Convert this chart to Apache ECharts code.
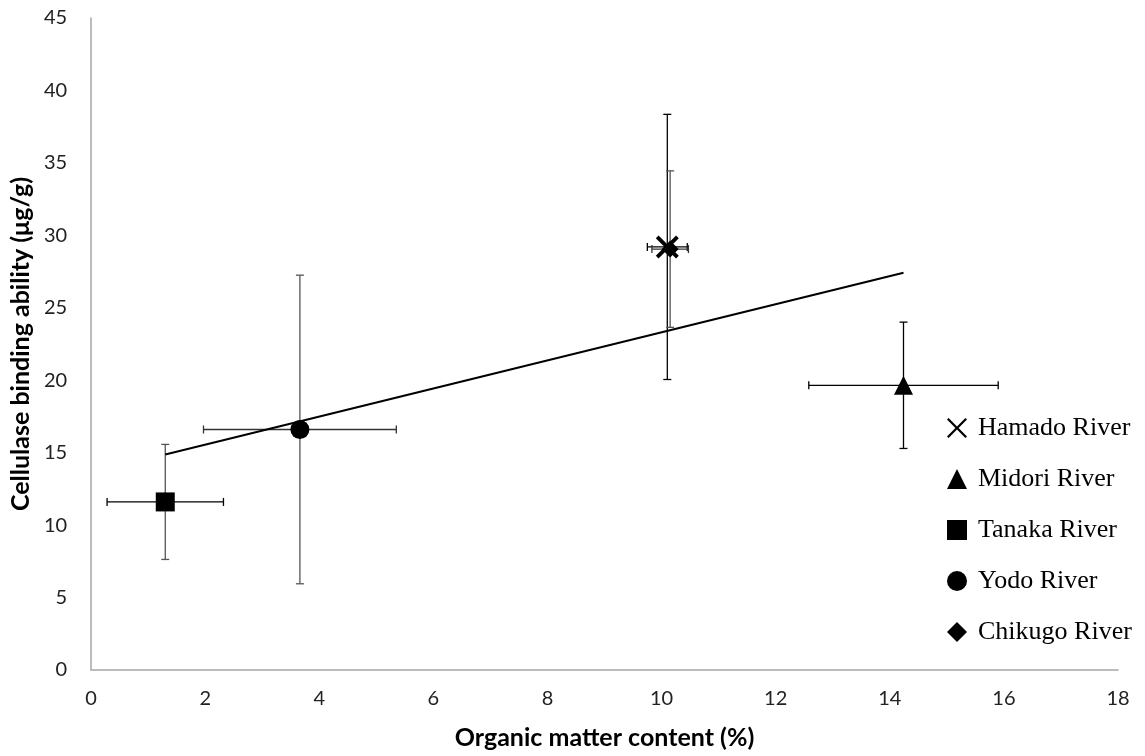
<!DOCTYPE html>
<html>
<head>
<meta charset="utf-8">
<script src="https://cdn.jsdelivr.net/npm/echarts@6/dist/echarts.min.js"></script>
<style>html,body{margin:0;padding:0;background:#fff;}#c{width:1145px;height:756px;}</style>
</head>
<body>
<div id="c"></div>
<script>
// Data: [organic matter %, binding ability, x error, y error]
var rivers = ['Hamado River', 'Midori River', 'Tanaka River', 'Yodo River', 'Chikugo River'];
var hamado  = [10.10, 29.2, 0.35, 9.15];
var midori  = [14.24, 19.65, 1.66, 4.36];
var tanaka  = [1.30, 11.6, 1.02, 3.97];
var yodo    = [3.66, 16.6, 1.69, 10.65];
var chikugo = [10.15, 29.05, 0.32, 5.4];
var trendX = [1.30, 14.24];
var trendY = [14.87, 27.42];
var xTicks = [0, 2, 4, 6, 8, 10, 12, 14, 16, 18];
var yTicks = [0, 5, 10, 15, 20, 25, 30, 35, 40, 45];

var xPath = 'path://M0,1.2L1.2,0L5,3.8L8.8,0L10,1.2L6.2,5L10,8.8L8.8,10L5,6.2L1.2,10L0,8.8L3.8,5Z';
var xPathThin = 'path://M0,0.8L0.8,0L5,4.2L9.2,0L10,0.8L5.8,5L10,9.2L9.2,10L5,5.8L0.8,10L0,9.2L4.2,5Z';

function errBar(name, d, vColor, hColor, z) {
  return {
    name: name + ' err', type: 'custom', z: z,
    data: [d],
    renderItem: function (params, api) {
      var x = api.value(0), y = api.value(1), ex = api.value(2), ey = api.value(3);
      var c = api.coord([x, y]);
      var l = api.coord([x - ex, y]), r = api.coord([x + ex, y]);
      var t = api.coord([x, y + ey]), b = api.coord([x, y - ey]);
      var cap = 4;
      var hs = {stroke: hColor, lineWidth: 1.3};
      var vs = {stroke: vColor, lineWidth: 1.3};
      return {type: 'group', children: [
        {type: 'line', shape: {x1: l[0], y1: c[1], x2: r[0], y2: c[1]}, style: hs},
        {type: 'line', shape: {x1: l[0], y1: c[1] - cap, x2: l[0], y2: c[1] + cap}, style: hs},
        {type: 'line', shape: {x1: r[0], y1: c[1] - cap, x2: r[0], y2: c[1] + cap}, style: hs},
        {type: 'line', shape: {x1: c[0], y1: t[1], x2: c[0], y2: b[1]}, style: vs},
        {type: 'line', shape: {x1: c[0] - cap, y1: t[1], x2: c[0] + cap, y2: t[1]}, style: vs},
        {type: 'line', shape: {x1: c[0] - cap, y1: b[1], x2: c[0] + cap, y2: b[1]}, style: vs}
      ]};
    }
  };
}

function pt(name, d, symbol, size) {
  return {
    name: name, type: 'scatter', z: 5, symbol: symbol, symbolSize: size,
    itemStyle: {color: '#000', opacity: 1}, data: [[d[0], d[1]]]
  };
}

var chart = echarts.init(document.getElementById('c'));
chart.setOption({
  animation: false,
  grid: {left: 91, right: 27, top: 18, bottom: 86},
  legend: {
    orient: 'vertical', left: 942, top: 410, itemWidth: 20, itemHeight: 20, itemGap: 25,
    textStyle: {fontFamily: 'Liberation Serif', fontSize: 26, color: '#000', padding: [0, 0, 0, 6]},
    data: [
      {name: rivers[0], icon: xPathThin},
      {name: rivers[1], icon: 'triangle'},
      {name: rivers[2], icon: 'rect'},
      {name: rivers[3], icon: 'circle'},
      {name: rivers[4], icon: 'diamond'}
    ]
  },
  xAxis: {
    type: 'value', min: xTicks[0], max: xTicks[xTicks.length - 1], interval: 2,
    name: 'Organic matter content (%)', nameLocation: 'middle', nameGap: 55,
    nameTextStyle: {fontFamily: 'Lato', fontWeight: 'bold', fontSize: 25, color: '#000'},
    axisLine: {show: true, lineStyle: {color: '#a6a6a6', width: 1.5}},
    axisTick: {show: false}, splitLine: {show: false},
    axisLabel: {fontFamily: 'Lato', fontSize: 20, color: '#222', margin: 19}
  },
  yAxis: {
    type: 'value', min: yTicks[0], max: yTicks[yTicks.length - 1], interval: 5,
    name: 'Cellulase binding ability (μg/g)', nameLocation: 'middle', nameGap: 51, nameRotate: 90,
    nameTextStyle: {fontFamily: 'Lato', fontWeight: 'bold', fontSize: 25, color: '#000'},
    axisLine: {show: true, lineStyle: {color: '#a6a6a6', width: 1.5}},
    axisTick: {show: false}, splitLine: {show: false},
    axisLabel: {fontFamily: 'Lato', fontSize: 20, color: '#222', margin: 24}
  },
  series: [
    {
      name: 'trend', type: 'line', z: 3, symbol: 'none', silent: true,
      lineStyle: {color: '#000', width: 2},
      data: trendX.map(function (x, i) { return [x, trendY[i]]; })
    },
    errBar(rivers[0], hamado, '#000', '#000', 2),
    errBar(rivers[1], midori, '#000', '#000', 2),
    errBar(rivers[2], tanaka, '#555', '#000', 2),
    errBar(rivers[3], yodo, '#555', '#333', 2),
    errBar(rivers[4], chikugo, '#555', '#333', 2),
    pt(rivers[0], hamado, xPath, 23),
    pt(rivers[1], midori, 'triangle', 19),
    pt(rivers[2], tanaka, 'rect', 19),
    pt(rivers[3], yodo, 'circle', 19),
    pt(rivers[4], chikugo, 'diamond', 17)
  ]
});
</script>
</body>
</html>
